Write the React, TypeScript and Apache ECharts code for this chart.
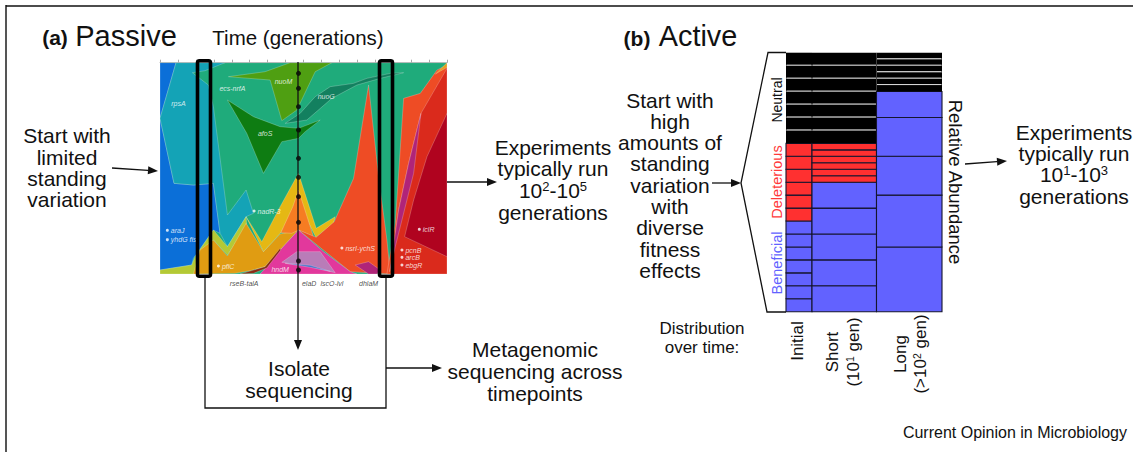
import React, { useEffect, useRef } from "react";
import * as echarts from "echarts";

// ---------- Panel (a): clone frequencies over time (time 0..860, frequency 0..634)
const timeRange = [0, 860];
const freqRange = [0, 634];
const rpsA = [[48,634],[195,634],[135,610],[97,604],[145,567],[160,502],[202,177],[258,252],[280,182],[258,172],[202,82],[180,122],[160,272],[100,267],[42,272],[0,467]];
const blueClone = [[0,634],[48,634],[0,467],[42,272],[100,267],[160,272],[180,122],[160,132],[100,47],[95,27],[0,12]];
const limeClone = [[0,0],[0,12],[95,27],[105,52],[160,132],[202,82],[258,172],[260,142],[202,57],[160,102],[120,0]];
const pflC = [[100,0],[120,72],[160,102],[202,54],[258,152],[310,67],[360,120],[415,132],[360,72],[315,22],[270,10],[225,2]];
const yellowClone = [[258,172],[305,97],[360,202],[415,302],[468,137],[525,172],[520,152],[467,110],[415,212],[362,124],[310,67]];
const orangeClone = [[362,124],[398,202],[415,252],[460,112],[415,132],[395,122]];
const nsrlYchS = [[415,132],[468,110],[522,157],[580,287],[625,567],[655,292],[680,102],[690,0],[570,7]];
const orangeRight = [[680,0],[705,152],[730,527],[780,542],[830,612],[860,627],[860,0]];
const goldStrip = [[825,600],[860,634],[860,620]];
const purpleStrip = [[782,482],[745,332],[715,192],[698,72],[688,7],[705,82],[725,162],[760,302]];
const redClone = [[782,482],[860,617],[860,0],[695,0],[698,72],[715,192],[745,332]];
const iclR = [[860,482],[800,352],[760,222],[733,112],[860,52]];
const hndM = [[300,0],[320,22],[360,72],[415,132],[490,67],[570,7],[590,0]];
const brownClone = [[240,0],[315,22],[360,77],[362,72],[320,18],[280,2]];
const mauveClone = [[365,35],[410,67],[480,67],[525,4],[450,22]];
const blueLine = [[375,32],[450,20],[510,8],[450,26]];
const dhlaM = [[585,27],[625,37],[660,12],[650,0],[625,0]];
const nuoM = [[205,592],[315,607],[390,634],[515,634],[465,607],[410,492],[365,460],[330,582]];
const afoS = [[202,522],[280,472],[360,442],[415,437],[480,462],[435,427],[415,407],[365,397],[310,302],[260,422]];
const nuoG = [[375,452],[420,482],[465,532],[510,562],[580,572],[620,587],[690,602],[730,604],[660,587],[590,567],[515,527],[440,462]];
const ancestor = [[0,0],[860,0],[860,634],[0,634]];

const cloneLayers: [number[][], string][] = [
  [ancestor, "#1fab7b"], [blueClone, "#0b6fd8"], [rpsA, "#14a3b6"], [limeClone, "#b4c935"],
  [pflC, "#e09c12"], [yellowClone, "#e5b814"], [orangeClone, "#f67c22"], [nsrlYchS, "#ee4c25"],
  [orangeRight, "#ee4c25"], [goldStrip, "#e5a020"], [redClone, "#da2a1c"], [purpleStrip, "#b02478"], [iclR, "#b0031f"],
  [hndM, "#e2389c"], [brownClone, "#8a2a14"], [mauveClone, "#b97cb8"], [blueLine, "#4a70c8"], [dhlaM, "#b02478"],
  [nuoM, "#4f9f12"], [afoS, "#0e7c12"], [nuoG, "#13805f"],
];

const dottedLabels: [number, number, string][] = [
  [282,189,"nadR-3"],[22,131,"araJ"],[22,103,"yhdG fis"],[175,24,"pflC"],[545,78,"nsrI-ychS"],
  [725,72,"pcnB"],[725,50,"arcB"],[725,27,"ebgR"],[777,134,"iclR"],
];
const plainLabels: [number, number, string][] = [
  [55,512,"rpsA"],[217,557,"ecs-nrfA"],[370,577,"nuoM"],[498,534,"nuoG"],[315,422,"afoS"],[360,14,"hndM"],
];
const belowAxisLabels: [number, number, string][] = [
  [252,-28,"rseB-talA"],[447,-28,"elaD"],[515,-28,"lscO-lvl"],[625,-28,"dhlaM"],
];
const samplingTime = 415;
const samplingFreqs = [602,557,502,432,347,290,232,155,39,12];

// ---------- Panel (b): relative abundance per lineage (%), bottom to top
const columnNames = ["Initial", "Short", "Long"];
const columnEdges = [0, 26, 90.5, 156];
const initialBeneficial = [5,5,5,5,5,5,5];
const initialDeleterious = [5,5,5,5,5,5];
const initialNeutral = [5,5,5,5,5,5,5];
const shortBeneficial = [10,10,10,10,10];
const shortDeleterious = [2.5,2.5,2.5,2.5,2.5,2.5];
const shortNeutral = [5,5,5,5,5,5,5];
const longBeneficial = [25,20,15,15,10];
const longDeleterious: number[] = [];
const longNeutral = [2.5,2.5,2.5,2.5,2.5,2.5];
const columnStacks = [
  [initialBeneficial, initialDeleterious, initialNeutral],
  [shortBeneficial, shortDeleterious, shortNeutral],
  [longBeneficial, longDeleterious, longNeutral],
];
const cellFill = ["#6262ff", "#ff3030", "#000000"];
const cells: number[][] = [];
columnStacks.forEach((stack, c) => {
  let base = 0;
  stack.forEach((group, kind) => group.forEach((v, i) => {
    cells.push([columnEdges[c], columnEdges[c + 1], base, base + v, kind, i > 0 ? 1 : 0]);
    base += v;
  }));
});

const FONT = "'Liberation Sans', Arial, sans-serif";
const INK = "#111111";

type Lbl = { t: string; x: number; y: number; s?: number; c?: string; w?: string; rot?: number; align?: string };
const sup = (s: number) => ({ s: { fontSize: s * 0.62, verticalAlign: "top", lineHeight: s, fill: INK, fontFamily: FONT, padding: [0, 0, 4, 0] } });

const texts: Lbl[] = [
  { t: "(a)", x: 55, y: 37, s: 21, w: "bold" },
  { t: "Passive", x: 126, y: 36, s: 29 },
  { t: "Time (generations)", x: 298, y: 37, s: 20.5 },
  { t: "(b)", x: 637, y: 38, s: 21, w: "bold" },
  { t: "Active", x: 698, y: 36, s: 28.8 },
  { t: "Start with", x: 67, y: 135, s: 21 },
  { t: "limited", x: 67, y: 157, s: 21 },
  { t: "standing", x: 67, y: 178, s: 21 },
  { t: "variation", x: 67, y: 199, s: 21 },
  { t: "Experiments", x: 553, y: 147, s: 21 },
  { t: "typically run", x: 553, y: 168, s: 21 },
  { t: "10{s|2}-10{s|5}", x: 553, y: 190, s: 21 },
  { t: "generations", x: 553, y: 212, s: 21 },
  { t: "Isolate", x: 299, y: 368, s: 21 },
  { t: "sequencing", x: 299, y: 390, s: 21 },
  { t: "Metagenomic", x: 535, y: 349, s: 21 },
  { t: "sequencing across", x: 535, y: 371, s: 21 },
  { t: "timepoints", x: 535, y: 393, s: 21 },
  { t: "Start with", x: 670, y: 100, s: 21 },
  { t: "high", x: 670, y: 121, s: 21 },
  { t: "amounts of", x: 670, y: 142, s: 21 },
  { t: "standing", x: 670, y: 163, s: 21 },
  { t: "variation", x: 670, y: 185, s: 21 },
  { t: "with", x: 670, y: 206, s: 21 },
  { t: "diverse", x: 670, y: 227, s: 21 },
  { t: "fitness", x: 670, y: 249, s: 21 },
  { t: "effects", x: 670, y: 270, s: 21 },
  { t: "Experiments", x: 1074, y: 132, s: 21 },
  { t: "typically run", x: 1074, y: 153, s: 21 },
  { t: "10{s|1}-10{s|3}", x: 1074, y: 174, s: 21 },
  { t: "generations", x: 1074, y: 196, s: 21 },
  { t: "Distribution", x: 702, y: 328, s: 17 },
  { t: "over time:", x: 702, y: 347, s: 17 },
  { t: columnNames[0], x: 797, y: 341, s: 17, rot: 90 },
  { t: columnNames[1], x: 832, y: 352, s: 17, rot: 90 },
  { t: "(10{s|1} gen)", x: 853, y: 352, s: 17, rot: 90 },
  { t: columnNames[2], x: 900, y: 354, s: 17, rot: 90 },
  { t: "(>10{s|2} gen)", x: 920, y: 354, s: 17, rot: 90 },
  { t: "Neutral", x: 777, y: 100, s: 14, rot: 90 },
  { t: "Deleterious", x: 777, y: 182, s: 14.5, rot: 90, c: "#ff3a3a" },
  { t: "Beneficial", x: 777, y: 263, s: 14.5, rot: 90, c: "#6262ff" },
  { t: "Relative Abundance", x: 955, y: 182, s: 18.5, rot: -90 },
  { t: "Current Opinion in Microbiology", x: 1127, y: 432, s: 16, align: "right" },
];

const arrows: number[][] = [
  [112, 168, 158, 171],
  [447, 182, 497, 182],
  [298, 277, 298, 350],
  [386, 368, 442, 368],
  [712, 183, 741, 183],
  [965, 164, 1007, 161],
];
const plainLines: number[][][] = [
  [[6, 6], [1133, 6]],
  [[205, 278], [205, 408], [386, 408], [386, 278]],
  [[298, 62], [298, 277]],
  [[786, 52.5], [768, 52.5], [741, 183], [767, 312], [786, 312]],
];
const frameLeft = [[6, 5], [6, 452]];
const bigBoxes = [
  [197.5, 60.7, 13, 215.5],
  [379.5, 60.7, 13, 215.5],
];

function buildGraphic() {
  const els: any[] = [];
  els.push({ type: "polyline", z: 50, shape: { points: frameLeft }, style: { stroke: "#555555", fill: "none", lineWidth: 2 } });
  plainLines.forEach((pts) => els.push({ type: "polyline", z: 50, shape: { points: pts }, style: { stroke: INK, fill: "none", lineWidth: 1.3 } }));
  bigBoxes.forEach((b) => els.push({ type: "rect", z: 60, shape: { x: b[0], y: b[1], width: b[2], height: b[3], r: 2 }, style: { stroke: "#000", fill: "none", lineWidth: 3.6 } }));
  arrows.forEach(([x1, y1, x2, y2]) => {
    const a = Math.atan2(y2 - y1, x2 - x1);
    const L = 10, W = 4;
    const bx = x2 - L * Math.cos(a), by = y2 - L * Math.sin(a);
    const nx = -Math.sin(a) * W, ny = Math.cos(a) * W;
    els.push({ type: "line", z: 50, shape: { x1, y1, x2: bx, y2: by }, style: { stroke: INK, lineWidth: 1.3 } });
    els.push({ type: "polygon", z: 50, shape: { points: [[x2, y2], [bx + nx, by + ny], [bx - nx, by - ny]] }, style: { fill: INK } });
  });
  texts.forEach((l) => {
    const s = l.s ?? 21;
    els.push({
      type: "text", z: 70, x: l.x, y: l.y, rotation: ((l.rot ?? 0) * Math.PI) / 180,
      style: {
        text: l.t, fontFamily: FONT, fontSize: s, fontWeight: l.w ?? "normal", fill: l.c ?? INK,
        align: l.align ?? "center", verticalAlign: "middle", rich: sup(s),
      },
    });
  });
  return els;
}

export default function App() {
  const ref = useRef<HTMLDivElement>(null);
  useEffect(() => {
    document.body.style.margin = "0";
    document.body.style.background = "#fff";
    const chart = echarts.init(ref.current!, undefined, { renderer: "svg" });
    const cloneSeries = cloneLayers.map(([pts, fill]) => ({
      type: "custom", xAxisIndex: 0, yAxisIndex: 0, coordinateSystem: "cartesian2d", silent: true,
      data: pts, clip: true,
      renderItem: (p: any, api: any) => p.dataIndex !== 0 ? null : ({
        type: "polygon",
        shape: { points: pts.map((q) => api.coord(q)) },
        style: { fill, stroke: "rgba(255,255,255,0.45)", lineWidth: 0.5 },
      }),
    }));
    const labelStyle = { fontSize: 7, fontStyle: "italic", fontFamily: FONT, color: "#ffffff" };
    chart.setOption({
      animation: false,
      backgroundColor: "#fff",
      grid: [
        { left: 160, top: 62.7, width: 287, height: 211.3 },
        { left: 786, top: 52.7, width: 156, height: 259 },
      ],
      xAxis: [
        { type: "value", gridIndex: 0, min: timeRange[0], max: timeRange[1], interval: 53.75, position: "top",
          axisLine: { show: true, onZero: false, lineStyle: { color: "#bbbbbb", width: 1 } },
          axisTick: { show: true, length: 3, lineStyle: { color: "#aaaaaa" } },
          axisLabel: { show: false }, splitLine: { show: false } },
        { type: "value", gridIndex: 1, min: 0, max: columnEdges[3], show: false, splitLine: { show: false } },
      ],
      yAxis: [
        { type: "value", gridIndex: 0, min: freqRange[0], max: freqRange[1], show: false, splitLine: { show: false } },
        { type: "value", gridIndex: 1, min: 0, max: 100, show: false, splitLine: { show: false } },
      ],
      series: [
        ...cloneSeries,
        {
          type: "scatter", xAxisIndex: 0, yAxisIndex: 0, symbolSize: 3, clip: false, z: 5, silent: true,
          itemStyle: { color: "#fff" },
          data: dottedLabels.map((d) => ({ value: [d[0], d[1]], name: d[2] })),
          label: { show: true, position: "right", distance: 2, formatter: "{b}", ...labelStyle },
        },
        {
          type: "scatter", xAxisIndex: 0, yAxisIndex: 0, symbolSize: 0, clip: false, z: 5, silent: true,
          data: plainLabels.map((d) => ({ value: [d[0], d[1]], name: d[2] })),
          label: { show: true, position: "inside", formatter: "{b}", ...labelStyle },
        },
        {
          type: "scatter", xAxisIndex: 0, yAxisIndex: 0, symbolSize: 0, clip: false, z: 5, silent: true,
          data: belowAxisLabels.map((d) => ({ value: [d[0], d[1]], name: d[2] })),
          label: { show: true, position: "inside", formatter: "{b}", ...labelStyle, color: "#222222", textBorderWidth: 0 },
        },
        {
          type: "scatter", xAxisIndex: 0, yAxisIndex: 0, symbolSize: 5, z: 6, silent: true,
          itemStyle: { color: "#000" },
          data: samplingFreqs.map((f) => [samplingTime, f]),
        },
        {
          type: "custom", xAxisIndex: 1, yAxisIndex: 1, coordinateSystem: "cartesian2d", silent: true, z: 4,
          data: cells,
          encode: { x: [0, 1], y: [2, 3] },
          renderItem: (_p: any, api: any) => {
            const x0 = api.value(0), x1 = api.value(1), y0 = api.value(2), y1 = api.value(3), kind = api.value(4), inner = api.value(5);
            const a = api.coord([x0, y1]), b = api.coord([x1, y0]);
            const rect = { type: "rect", shape: { x: a[0], y: a[1], width: b[0] - a[0], height: b[1] - a[1] } };
            if (kind === 2) {
              const children: any[] = [{ ...rect, style: { fill: "#000" } }];
              if (inner) children.push({ type: "line", shape: { x1: a[0] + 0.5, y1: b[1] - 0.5, x2: b[0] - 0.5, y2: b[1] - 0.5 }, style: { stroke: "#e4e4e4", lineWidth: 1 } });
              return { type: "group", children };
            }
            return { ...rect, style: { fill: cellFill[kind], stroke: "#15152e", lineWidth: 1.1 } };
          },
        },
      ],
      graphic: buildGraphic(),
    });
    return () => chart.dispose();
  }, []);
  return <div ref={ref} style={{ position: "fixed", left: 0, top: 0, width: 1133, height: 452 }} />;
}
